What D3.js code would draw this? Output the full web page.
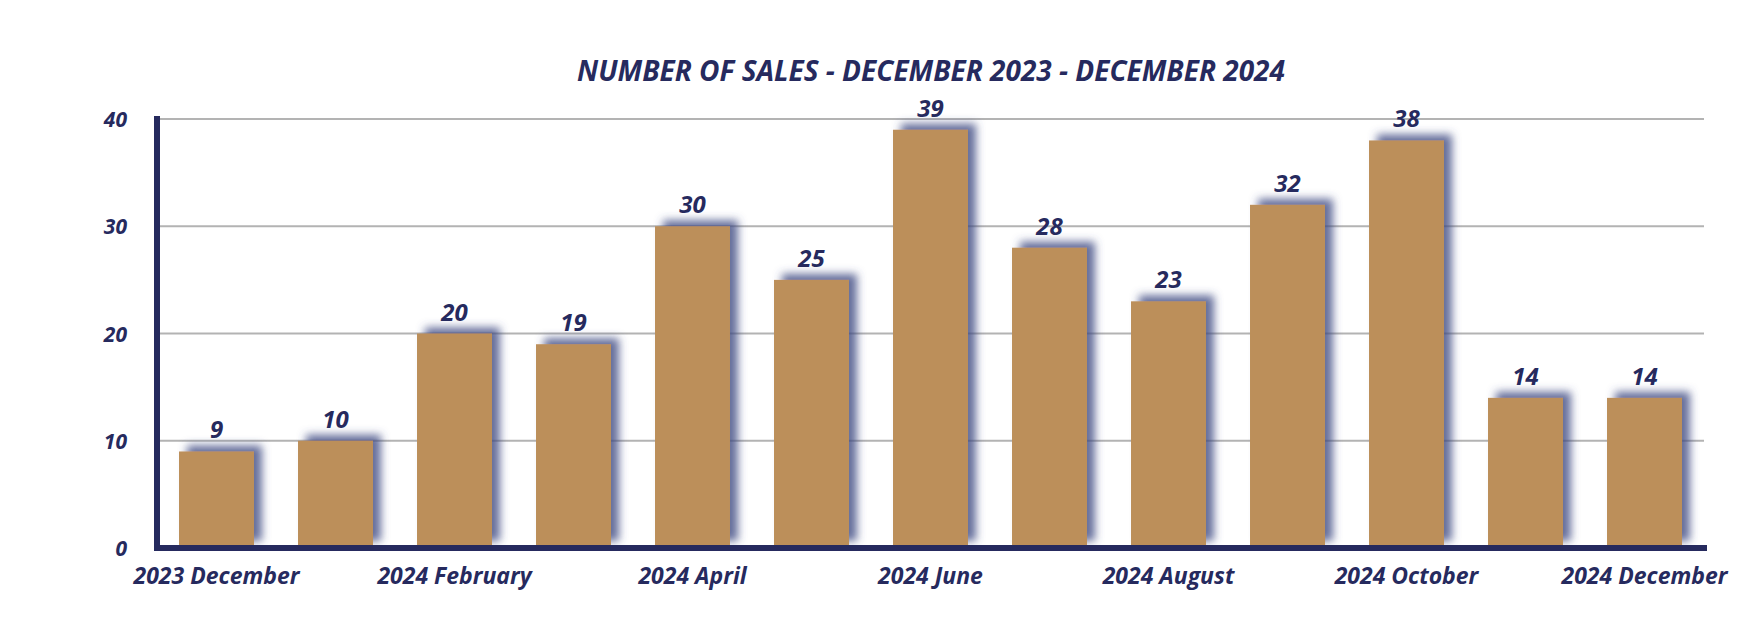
<!DOCTYPE html>
<html><head><meta charset="utf-8">
<script src="https://cdn.jsdelivr.net/npm/d3@7"></script>
<style>html,body{margin:0;padding:0;background:#fff;}svg{display:block;}</style>
</head><body>
<script>
const categories = ["2023 December","2024 January","2024 February","2024 March","2024 April","2024 May","2024 June","2024 July","2024 August","2024 September","2024 October","2024 November","2024 December"];
const sales = [9,10,20,19,30,25,39,28,23,32,38,14,14];
const yTicks = [0,10,20,30,40];
const title = "NUMBER OF SALES - DECEMBER 2023 - DECEMBER 2024";

const W = 1750, H = 628;
const navy = "#262a5e", barColor = "#bc8f5a", gridColor = "#b3b3b3";
const font = "'Open Sans', Lato, sans-serif";

const svg = d3.select("body").append("svg").attr("width", W).attr("height", H);
const defs = svg.append("defs");
const f = defs.append("filter").attr("id","sh").attr("x","-30%").attr("y","-30%").attr("width","160%").attr("height","160%");
f.append("feDropShadow").attr("dx",8).attr("dy",-6).attr("stdDeviation",4)
  .attr("flood-color","#414a82").attr("flood-opacity",0.8);

const x = d3.scaleBand().domain(categories).range([157, 1704]).paddingInner(0.37).paddingOuter(0.185);
const y = d3.scaleLinear().domain([0, 40]).range([548, 119]);

// gridlines
svg.append("g").selectAll("line").data(yTicks.filter(d => d > 0)).join("line")
  .attr("x1", 160).attr("x2", 1704).attr("y1", d => y(d)).attr("y2", d => y(d))
  .attr("stroke", gridColor).attr("stroke-width", 2);

// bars
svg.append("g").selectAll("rect").data(sales).join("rect")
  .attr("x", (d,i) => x(categories[i])).attr("width", x.bandwidth())
  .attr("y", d => y(d)).attr("height", d => y(0) - y(d) - 1)
  .attr("fill", barColor).attr("filter","url(#sh)");

// axes lines
svg.append("line").attr("x1",157).attr("x2",157).attr("y1",116).attr("y2",551)
  .attr("stroke", navy).attr("stroke-width",6);
svg.append("line").attr("x1",154).attr("x2",1707).attr("y1",548).attr("y2",548)
  .attr("stroke", navy).attr("stroke-width",6);

function styleText(sel, size) {
  sel.attr("fill", navy).attr("font-family", font).attr("font-size", size)
    .attr("font-weight", 700).attr("font-style","italic");
}

// y axis labels
const yAxis = d3.axisLeft(y).tickValues(yTicks).tickSize(0).tickPadding(0);
const gy = svg.append("g").attr("transform","translate(127,0)").call(yAxis);
gy.select(".domain").remove();
styleText(gy.selectAll("text").attr("dy","0.36em"), 21);

// x axis labels
const xAxis = d3.axisBottom(x).tickValues(categories.filter((d,i) => i % 2 === 0)).tickSize(0).tickPadding(0);
const gx = svg.append("g").attr("transform","translate(0,566)").call(xAxis);
gx.select(".domain").remove();
styleText(gx.selectAll("text").attr("dy","0.8em"), 23);

// value labels
styleText(svg.append("g").selectAll("text").data(sales).join("text")
  .attr("x", (d,i) => x(categories[i]) + x.bandwidth()/2).attr("y", d => y(d) - 13)
  .attr("text-anchor","middle").text(d => d), 24);

// title
styleText(svg.append("text").attr("x", 931).attr("y", 81).attr("text-anchor","middle").text(title), 28);
</script>
</body></html>
